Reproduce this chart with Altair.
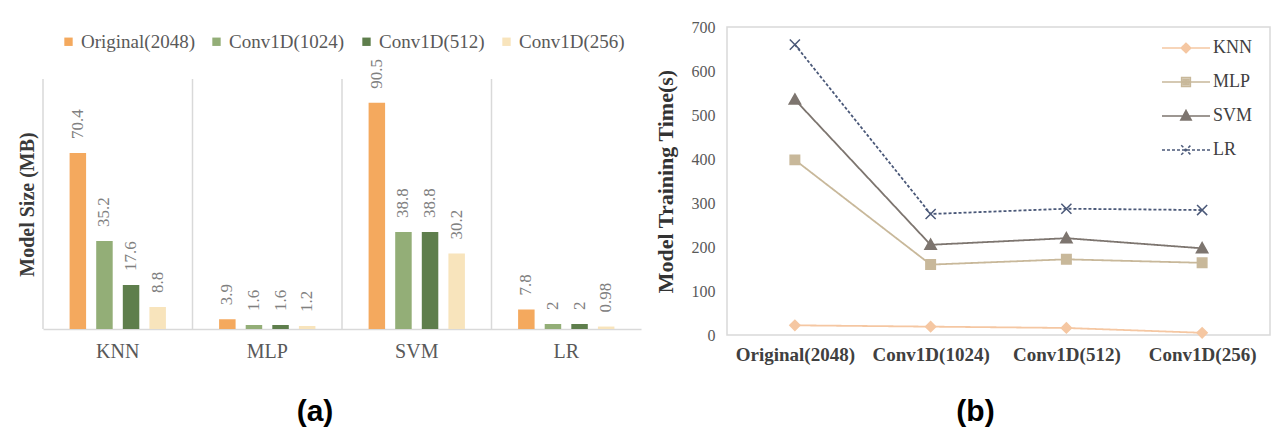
import altair as alt
import pandas as pd

# ---------------- data ----------------
models = ["KNN", "MLP", "SVM", "LR"]
configs = ["Original(2048)", "Conv1D(1024)", "Conv1D(512)", "Conv1D(256)"]

# (a) model size (MB)
size_original = [70.4, 3.9, 90.5, 7.8]
size_c1024 = [35.2, 1.6, 38.8, 2]
size_c512 = [17.6, 1.6, 38.8, 2]
size_c256 = [8.8, 1.2, 30.2, 0.98]

# (b) training time (s)
time_knn = [22, 19, 16, 5]
time_mlp = [398, 160, 172, 164]
time_svm = [535, 205, 220, 197]
time_lr = [660, 275, 287, 284]

bar_colors = ["#F4A95E", "#93AE77", "#5E7E4C", "#F8E4BC"]
line_colors = ["#F5C7A2", "#C8B89A", "#7D756F", "#4A5878"]
line_dashes = [[1, 0], [1, 0], [1, 0], [3, 2]]

serif = "Liberation Serif"

rows_a = []
for c, vals in zip(configs, [size_original, size_c1024, size_c512, size_c256]):
    for m, v in zip(models, vals):
        rows_a.append({"model": m, "config": c, "size": v, "label": f"{v:g}"})
df_a = pd.DataFrame(rows_a)
df_sep = pd.DataFrame({"model": models, "lo": [0] * 4, "hi": [100] * 4})

rows_b = []
for m, vals in zip(models, [time_knn, time_mlp, time_svm, time_lr]):
    for c, v in zip(configs, vals):
        rows_b.append({"model": m, "config": c, "time": v})
df_b = pd.DataFrame(rows_b)

# ---------------- panel (a) ----------------
x_axis_a = alt.Axis(title=None, labelFont=serif, labelFontSize=20, labelColor="#595959",
                    labelPadding=12, ticks=False, domainColor="#D9D9D9", domainWidth=1.5,
                    labelAngle=0, grid=False)
y_axis_a = alt.Axis(title="Model Size (MB)", labels=False, ticks=False, domain=False, grid=False,
                    titleFont=serif, titleFontSize=20, titleFontWeight="bold", titleColor="#3A3A3A",
                    titlePadding=6, titleY=177)
x_scale_a = alt.Scale(paddingInner=0, paddingOuter=0)
y_scale_a = alt.Scale(domain=[0, 120.8], nice=False, zero=True)
xo = alt.XOffset("config:N", sort=configs, scale=alt.Scale(paddingInner=0.38, paddingOuter=1))

seps = alt.Chart(df_sep).mark_rule(color="#D9D9D9", strokeWidth=1.5).encode(
    x=alt.X("model:N", sort=models, bandPosition=0, scale=x_scale_a, axis=x_axis_a),
    y=alt.Y("lo:Q", scale=y_scale_a, axis=y_axis_a),
    y2="hi:Q",
)

legend_a = alt.Legend(title=None, orient="none", legendX=16, legendY=5, direction="horizontal",
                      symbolType="square", symbolSize=70, symbolStrokeWidth=0, padding=0,
                      labelFont=serif, labelFontSize=19, labelColor="#595959", labelOffset=3,
                      columnPadding=12)

bars = alt.Chart(df_a).mark_bar().encode(
    x=alt.X("model:N", sort=models, scale=x_scale_a, axis=x_axis_a),
    xOffset=xo,
    y=alt.Y("size:Q", scale=y_scale_a, axis=y_axis_a),
    color=alt.Color("config:N", sort=configs, scale=alt.Scale(domain=configs, range=bar_colors),
                    legend=legend_a),
)

vlabels = alt.Chart(df_a).mark_text(angle=270, align="left", baseline="middle", dx=14,
                                    font=serif, fontSize=17, color="#808080").encode(
    x=alt.X("model:N", sort=models, scale=x_scale_a, axis=x_axis_a),
    xOffset=xo,
    y=alt.Y("size:Q", scale=y_scale_a, axis=y_axis_a),
    text="label:N",
)

panel_a = alt.layer(seps, bars, vlabels).properties(
    width=598, height=302,
    title=alt.TitleParams(text="(a)", orient="bottom", anchor="middle", frame="group",
                          font="Liberation Sans", fontSize=30, fontWeight="bold", color="#000000",
                          offset=36, dx=-27),
)

# ---------------- panel (b) ----------------
x_b = alt.X("config:N", sort=configs, scale=alt.Scale(type="point", padding=0.5),
            axis=alt.Axis(title=None, labelAngle=0, labelFont=serif, labelFontSize=19,
                          labelFontWeight="bold", labelColor="#404040", labelPadding=10,
                          ticks=False, domain=False, grid=False))
y_b = alt.Y("time:Q", scale=alt.Scale(domain=[0, 700], nice=False),
            axis=alt.Axis(title="Model Training Time(s)", values=[0, 100, 200, 300, 400, 500, 600, 700],
                          labelFont=serif, labelFontSize=16, labelColor="#595959", labelPadding=12,
                          ticks=False, domain=False, grid=False, titleFont=serif, titleFontSize=22,
                          titleFontWeight="bold", titleColor="#333333", titlePadding=14))

col_scale = alt.Scale(domain=models, range=line_colors)
dash_scale = alt.Scale(domain=models, range=line_dashes)

marker_paths = [
    "M0,-0.8L0.8,0L0,0.8L-0.8,0Z",
    "M-0.75,-0.75H0.75V0.75H-0.75Z",
    "M0,-0.9L0.9,0.7H-0.9Z",
    "M-0.8,-0.8L0.8,0.8M-0.8,0.8L0.8,-0.8",
]
# legend glyphs: a line through a (stroke-filled) marker
legend_paths = [
    "M-3,0H3M0,-0.6L0.6,0L0,0.6L-0.6,0ZM0,-0.4L0.4,0L0,0.4L-0.4,0ZM0,-0.2L0.2,0L0,0.2L-0.2,0Z",
    "M-3,0H3M-0.55,-0.55H0.55V0.55H-0.55ZM-0.35,-0.35H0.35V0.35H-0.35ZM-0.15,-0.15H0.15V0.15H-0.15Z",
    "M-3,0H3M0,-0.7L0.65,0.5H-0.65ZM0,-0.4L0.38,0.3H-0.38ZM0,-0.12L0.14,0.15H-0.14Z",
    "M-3,0H3M-0.6,-0.6L0.6,0.6M-0.6,0.6L0.6,-0.6",
]


def lookup_expr(keys, vals, default):
    expr = default
    for k, v in reversed(list(zip(keys, vals))):
        expr = f"datum.value === '{k}' ? {v} : ({expr})"
    return expr


shape_expr = lookup_expr(models, [f"'{p}'" for p in legend_paths], "'circle'")
dash_expr = lookup_expr(models, [str(d) for d in line_dashes], "[1, 0]")

lines = alt.Chart(df_b).mark_line(strokeWidth=1.8).encode(
    x=x_b, y=y_b,
    stroke=alt.Stroke("model:N", sort=models, scale=col_scale, legend=None),
    strokeDash=alt.StrokeDash("model:N", sort=models, scale=dash_scale, legend=None),
)

points = alt.Chart(df_b).mark_point(filled=True, opacity=1, strokeWidth=1.5, size=160).encode(
    x=x_b, y=y_b,
    fill=alt.Fill("model:N", sort=models, scale=col_scale, legend=None),
    stroke=alt.Stroke("model:N", sort=models, scale=col_scale, legend=None),
    shape=alt.Shape("model:N", sort=models, scale=alt.Scale(domain=models, range=marker_paths),
                    legend=None),
)

legend_b = alt.Legend(
    title=None, orient="none", legendX=450, legendY=12, symbolSize=256,
    symbolStrokeWidth=1.5, symbolOpacity=1, padding=0, labelFont=serif,
    labelFontSize=18, labelColor="#404040", labelOffset=18, rowPadding=16,
    symbolType=alt.ExprRef(expr=shape_expr),
    symbolDash=alt.ExprRef(expr=dash_expr),
)

legend_layer = alt.Chart(df_b).mark_point(filled=False, opacity=0).encode(
    x=x_b, y=y_b,
    color=alt.Color("model:N", sort=models, scale=col_scale, legend=legend_b),
)

panel_b = alt.layer(lines, points, legend_layer).properties(
    width=543, height=308,
    view=alt.ViewBackground(stroke="#D9D9D9", strokeWidth=1.5),
    title=alt.TitleParams(text="(b)", orient="bottom", anchor="middle", frame="group",
                          font="Liberation Sans", fontSize=30, fontWeight="bold", color="#000000",
                          offset=33, dx=-23),
)

chart = alt.hconcat(panel_a, panel_b, spacing=86, bounds="flush").resolve_scale(
    color="independent", x="independent", y="independent"
).resolve_legend(color="independent").properties(
    padding={"left": 17, "top": 18, "right": 0, "bottom": 0},
    background="white",
).configure_view(stroke=None)

chart.save("out.html", embed_options={"renderer": "svg", "actions": False})
